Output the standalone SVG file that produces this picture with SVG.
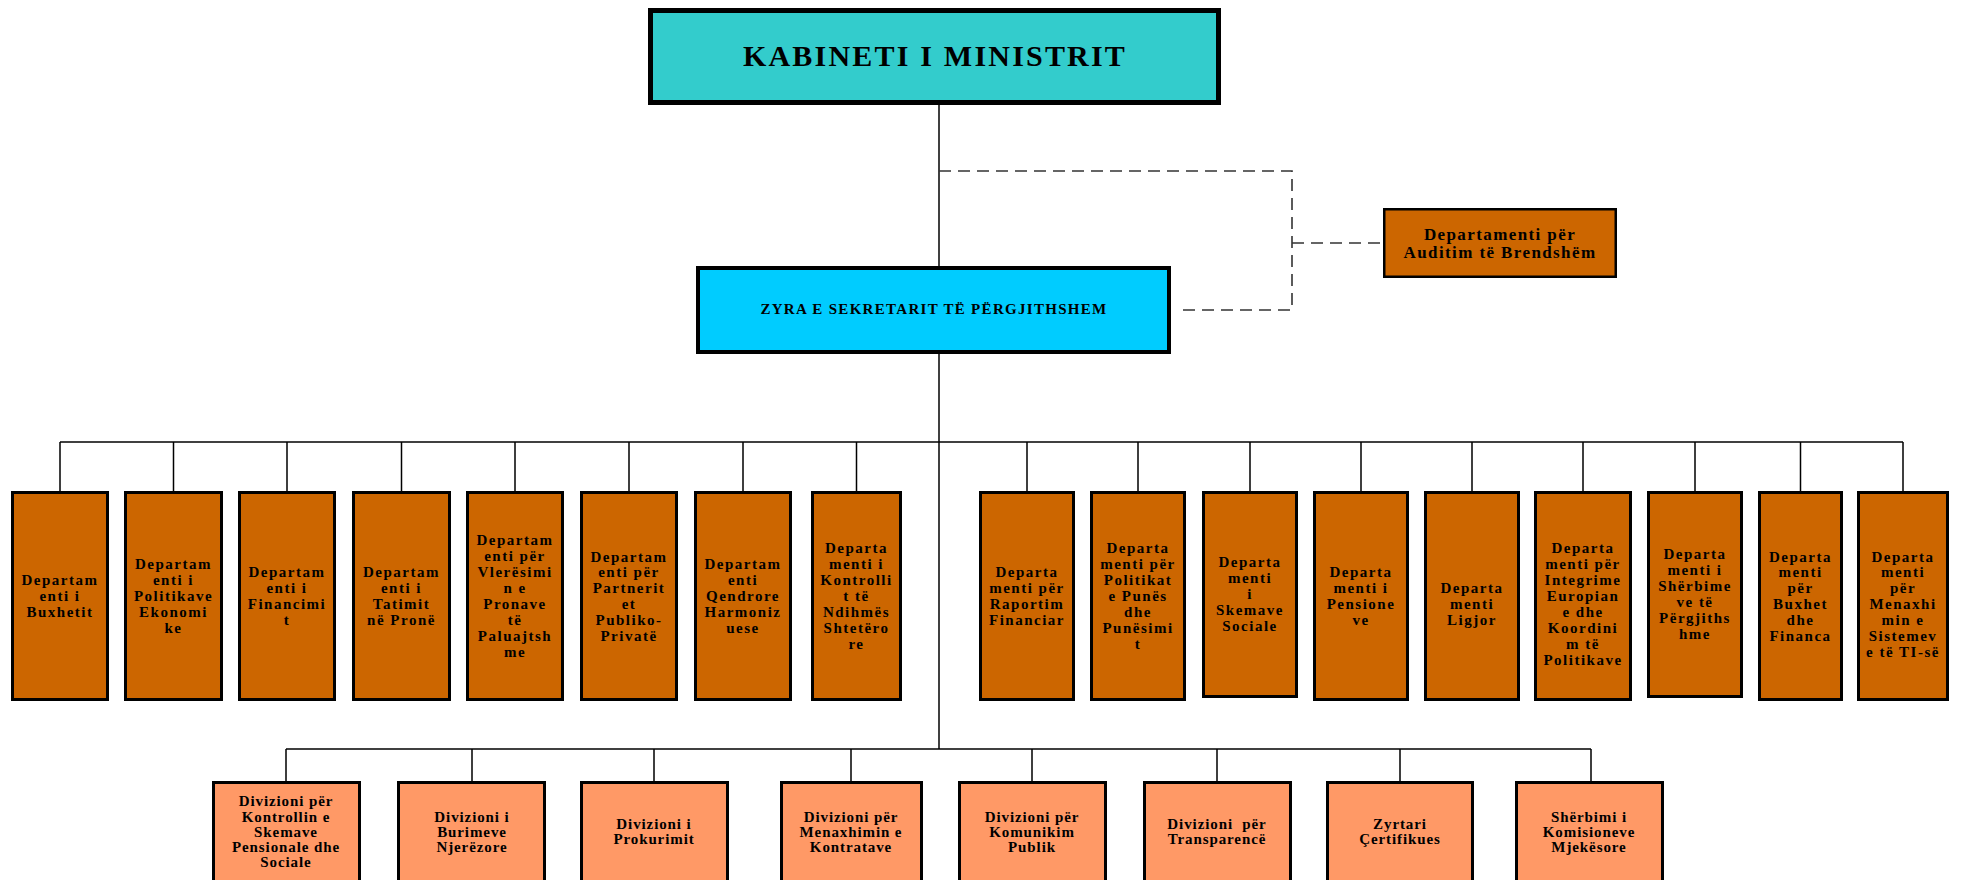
<svg xmlns="http://www.w3.org/2000/svg" width="1961" height="880" viewBox="0 0 1961 880">
<style>
text{font-family:"Liberation Serif","Times New Roman",serif;font-weight:bold;fill:#000;text-anchor:middle}
.conn{stroke:#000;stroke-width:1.5;fill:none}
.dash{stroke:#333;stroke-width:1.6;stroke-dasharray:12 7;fill:none}
.dept rect{fill:#CC6600;stroke:#000;stroke-width:3}
.div rect{fill:#FF9966;stroke:#000;stroke-width:3}
.t3{font-size:15px;letter-spacing:1.5px}
.t4{font-size:15px;letter-spacing:0.9px}
</style>
<rect width="1961" height="880" fill="#fff"/>
<g id="connectors">
<path class="conn" d="M939 105V749"/>
<path class="conn" d="M60 442H1903"/>
<path class="conn" d="M60 442V491M173.5 442V491M287 442V491M401.5 442V491M515 442V491M629 442V491M743 442V491M856.5 442V491M1027 442V491M1138 442V491M1250 442V491M1361 442V491M1472 442V491M1583 442V491M1695 442V491M1800.5 442V491M1903 442V491"/>
<path class="conn" d="M286 749H1591"/>
<path class="conn" d="M286 749V781M472 749V781M654 749V781M851 749V781M1032 749V781M1217 749V781M1400 749V781M1591 749V781"/>
<path class="dash" d="M939 171H1292V310H1182"/>
<path class="dash" d="M1292 243H1383"/>
</g>
<g id="kabineti">
<rect x="650.5" y="10.5" width="568" height="92" fill="#33CCCC" stroke="#000" stroke-width="5"/>
<text x="935" y="66" style="font-size:30px;letter-spacing:2.2px">KABINETI I MINISTRIT</text>
</g>
<g id="zyra">
<rect x="698" y="268" width="471" height="84" fill="#00CCFF" stroke="#000" stroke-width="4"/>
<text x="934" y="314" style="font-size:15px;letter-spacing:1.3px">ZYRA E SEKRETARIT TË PËRGJITHSHEM</text>
</g>
<g id="auditim">
<rect x="1384.25" y="209.25" width="231.5" height="67.5" fill="#CC6600" stroke="#000" stroke-width="2.5"/>
<text x="1500" style="font-size:17px;letter-spacing:1.4px"><tspan x="1500" y="240">Departamenti për</tspan><tspan x="1500" y="258">Auditim të Brendshëm</tspan></text>
</g>
<g id="d1" class="dept"><rect x="12.5" y="492.5" width="95" height="207"/><text class="t3"><tspan x="60" y="585">Departam</tspan><tspan x="60" y="601">enti i</tspan><tspan x="60" y="617">Buxhetit</tspan></text></g>
<g id="d2" class="dept"><rect x="125.5" y="492.5" width="96" height="207"/><text class="t3"><tspan x="173.5" y="569">Departam</tspan><tspan x="173.5" y="585">enti i</tspan><tspan x="173.5" y="601">Politikave</tspan><tspan x="173.5" y="617">Ekonomi</tspan><tspan x="173.5" y="633">ke</tspan></text></g>
<g id="d3" class="dept"><rect x="239.5" y="492.5" width="95" height="207"/><text class="t3"><tspan x="287" y="577">Departam</tspan><tspan x="287" y="593">enti i</tspan><tspan x="287" y="609">Financimi</tspan><tspan x="287" y="625">t</tspan></text></g>
<g id="d4" class="dept"><rect x="353.5" y="492.5" width="96" height="207"/><text class="t3"><tspan x="401.5" y="577">Departam</tspan><tspan x="401.5" y="593">enti i</tspan><tspan x="401.5" y="609">Tatimit</tspan><tspan x="401.5" y="625">në Pronë</tspan></text></g>
<g id="d5" class="dept"><rect x="467.5" y="492.5" width="95" height="207"/><text class="t3"><tspan x="515" y="545">Departam</tspan><tspan x="515" y="561">enti për</tspan><tspan x="515" y="577">Vlerësimi</tspan><tspan x="515" y="593">n e</tspan><tspan x="515" y="609">Pronave</tspan><tspan x="515" y="625">të</tspan><tspan x="515" y="641">Paluajtsh</tspan><tspan x="515" y="657">me</tspan></text></g>
<g id="d6" class="dept"><rect x="581.5" y="492.5" width="95" height="207"/><text class="t3"><tspan x="629" y="562">Departam</tspan><tspan x="629" y="577">enti për</tspan><tspan x="629" y="593">Partnerit</tspan><tspan x="629" y="609">et</tspan><tspan x="629" y="625">Publiko-</tspan><tspan x="629" y="641">Privatë</tspan></text></g>
<g id="d7" class="dept"><rect x="695.5" y="492.5" width="95" height="207"/><text class="t3"><tspan x="743" y="569">Departam</tspan><tspan x="743" y="585">enti</tspan><tspan x="743" y="601">Qendrore</tspan><tspan x="743" y="617">Harmoniz</tspan><tspan x="743" y="633">uese</tspan></text></g>
<g id="d8" class="dept"><rect x="812.5" y="492.5" width="88" height="207"/><text class="t3"><tspan x="856.5" y="553">Departa</tspan><tspan x="856.5" y="569">menti i</tspan><tspan x="856.5" y="585">Kontrolli</tspan><tspan x="856.5" y="601">t të</tspan><tspan x="856.5" y="617">Ndihmës</tspan><tspan x="856.5" y="633">Shtetëro</tspan><tspan x="856.5" y="649">re</tspan></text></g>
<g id="d9" class="dept"><rect x="980.5" y="492.5" width="93" height="207"/><text class="t3"><tspan x="1027" y="577">Departa</tspan><tspan x="1027" y="593">menti për</tspan><tspan x="1027" y="609">Raportim</tspan><tspan x="1027" y="625">Financiar</tspan></text></g>
<g id="d10" class="dept"><rect x="1091.5" y="492.5" width="93" height="207"/><text class="t3"><tspan x="1138" y="553">Departa</tspan><tspan x="1138" y="569">menti për</tspan><tspan x="1138" y="585">Politikat</tspan><tspan x="1138" y="601">e Punës</tspan><tspan x="1138" y="617">dhe</tspan><tspan x="1138" y="633">Punësimi</tspan><tspan x="1138" y="649">t</tspan></text></g>
<g id="d11" class="dept"><rect x="1203.5" y="492.5" width="93" height="204"/><text class="t3"><tspan x="1250" y="567">Departa</tspan><tspan x="1250" y="583">menti</tspan><tspan x="1250" y="599">i</tspan><tspan x="1250" y="615">Skemave</tspan><tspan x="1250" y="631">Sociale</tspan></text></g>
<g id="d12" class="dept"><rect x="1314.5" y="492.5" width="93" height="207"/><text class="t3"><tspan x="1361" y="577">Departa</tspan><tspan x="1361" y="593">menti i</tspan><tspan x="1361" y="609">Pensione</tspan><tspan x="1361" y="625">ve</tspan></text></g>
<g id="d13" class="dept"><rect x="1425.5" y="492.5" width="93" height="207"/><text class="t3"><tspan x="1472" y="593">Departa</tspan><tspan x="1472" y="609">menti</tspan><tspan x="1472" y="625">Ligjor</tspan></text></g>
<g id="d14" class="dept"><rect x="1535.5" y="492.5" width="95" height="207"/><text class="t3"><tspan x="1583" y="553">Departa</tspan><tspan x="1583" y="569">menti për</tspan><tspan x="1583" y="585">Integrime</tspan><tspan x="1583" y="601">Europian</tspan><tspan x="1583" y="617">e dhe</tspan><tspan x="1583" y="633">Koordini</tspan><tspan x="1583" y="649">m të</tspan><tspan x="1583" y="665">Politikave</tspan></text></g>
<g id="d15" class="dept"><rect x="1648.5" y="492.5" width="93" height="204"/><text class="t3"><tspan x="1695" y="559">Departa</tspan><tspan x="1695" y="575">menti i</tspan><tspan x="1695" y="591">Shërbime</tspan><tspan x="1695" y="607">ve të</tspan><tspan x="1695" y="623">Përgjiths</tspan><tspan x="1695" y="639">hme</tspan></text></g>
<g id="d16" class="dept"><rect x="1759.5" y="492.5" width="82" height="207"/><text class="t3"><tspan x="1800.5" y="562">Departa</tspan><tspan x="1800.5" y="577">menti</tspan><tspan x="1800.5" y="593">për</tspan><tspan x="1800.5" y="609">Buxhet</tspan><tspan x="1800.5" y="625">dhe</tspan><tspan x="1800.5" y="641">Financa</tspan></text></g>
<g id="d17" class="dept"><rect x="1858.5" y="492.5" width="89" height="207"/><text class="t3"><tspan x="1903" y="562">Departa</tspan><tspan x="1903" y="577">menti</tspan><tspan x="1903" y="593">për</tspan><tspan x="1903" y="609">Menaxhi</tspan><tspan x="1903" y="625">min e</tspan><tspan x="1903" y="641">Sistemev</tspan><tspan x="1903" y="657">e të TI-së</tspan></text></g>
<g id="v1" class="div"><rect x="213.5" y="782.5" width="146" height="120"/><text class="t4"><tspan x="286" y="806">Divizioni për</tspan><tspan x="286" y="822">Kontrollin e</tspan><tspan x="286" y="837">Skemave</tspan><tspan x="286" y="852">Pensionale dhe</tspan><tspan x="286" y="867">Sociale</tspan></text></g>
<g id="v2" class="div"><rect x="398.5" y="782.5" width="146" height="120"/><text class="t4"><tspan x="472" y="822">Divizioni i</tspan><tspan x="472" y="837">Burimeve</tspan><tspan x="472" y="852">Njerëzore</tspan></text></g>
<g id="v3" class="div"><rect x="581.5" y="782.5" width="146" height="120"/><text class="t4"><tspan x="654" y="829">Divizioni i</tspan><tspan x="654" y="844">Prokurimit</tspan></text></g>
<g id="v4" class="div"><rect x="781.5" y="782.5" width="140" height="120"/><text class="t4"><tspan x="851" y="822">Divizioni për</tspan><tspan x="851" y="837">Menaxhimin e</tspan><tspan x="851" y="852">Kontratave</tspan></text></g>
<g id="v5" class="div"><rect x="959.5" y="782.5" width="146" height="120"/><text class="t4"><tspan x="1032" y="822">Divizioni për</tspan><tspan x="1032" y="837">Komunikim</tspan><tspan x="1032" y="852">Publik</tspan></text></g>
<g id="v6" class="div"><rect x="1144.5" y="782.5" width="146" height="120"/><text class="t4" xml:space="preserve"><tspan x="1217" y="829">Divizioni  për</tspan><tspan x="1217" y="844">Transparencë</tspan></text></g>
<g id="v7" class="div"><rect x="1327.5" y="782.5" width="145" height="120"/><text class="t4"><tspan x="1400" y="829">Zyrtari</tspan><tspan x="1400" y="844">Çertifikues</tspan></text></g>
<g id="v8" class="div"><rect x="1516.5" y="782.5" width="146" height="120"/><text class="t4"><tspan x="1589" y="822">Shërbimi i</tspan><tspan x="1589" y="837">Komisioneve</tspan><tspan x="1589" y="852">Mjekësore</tspan></text></g>
</svg>
